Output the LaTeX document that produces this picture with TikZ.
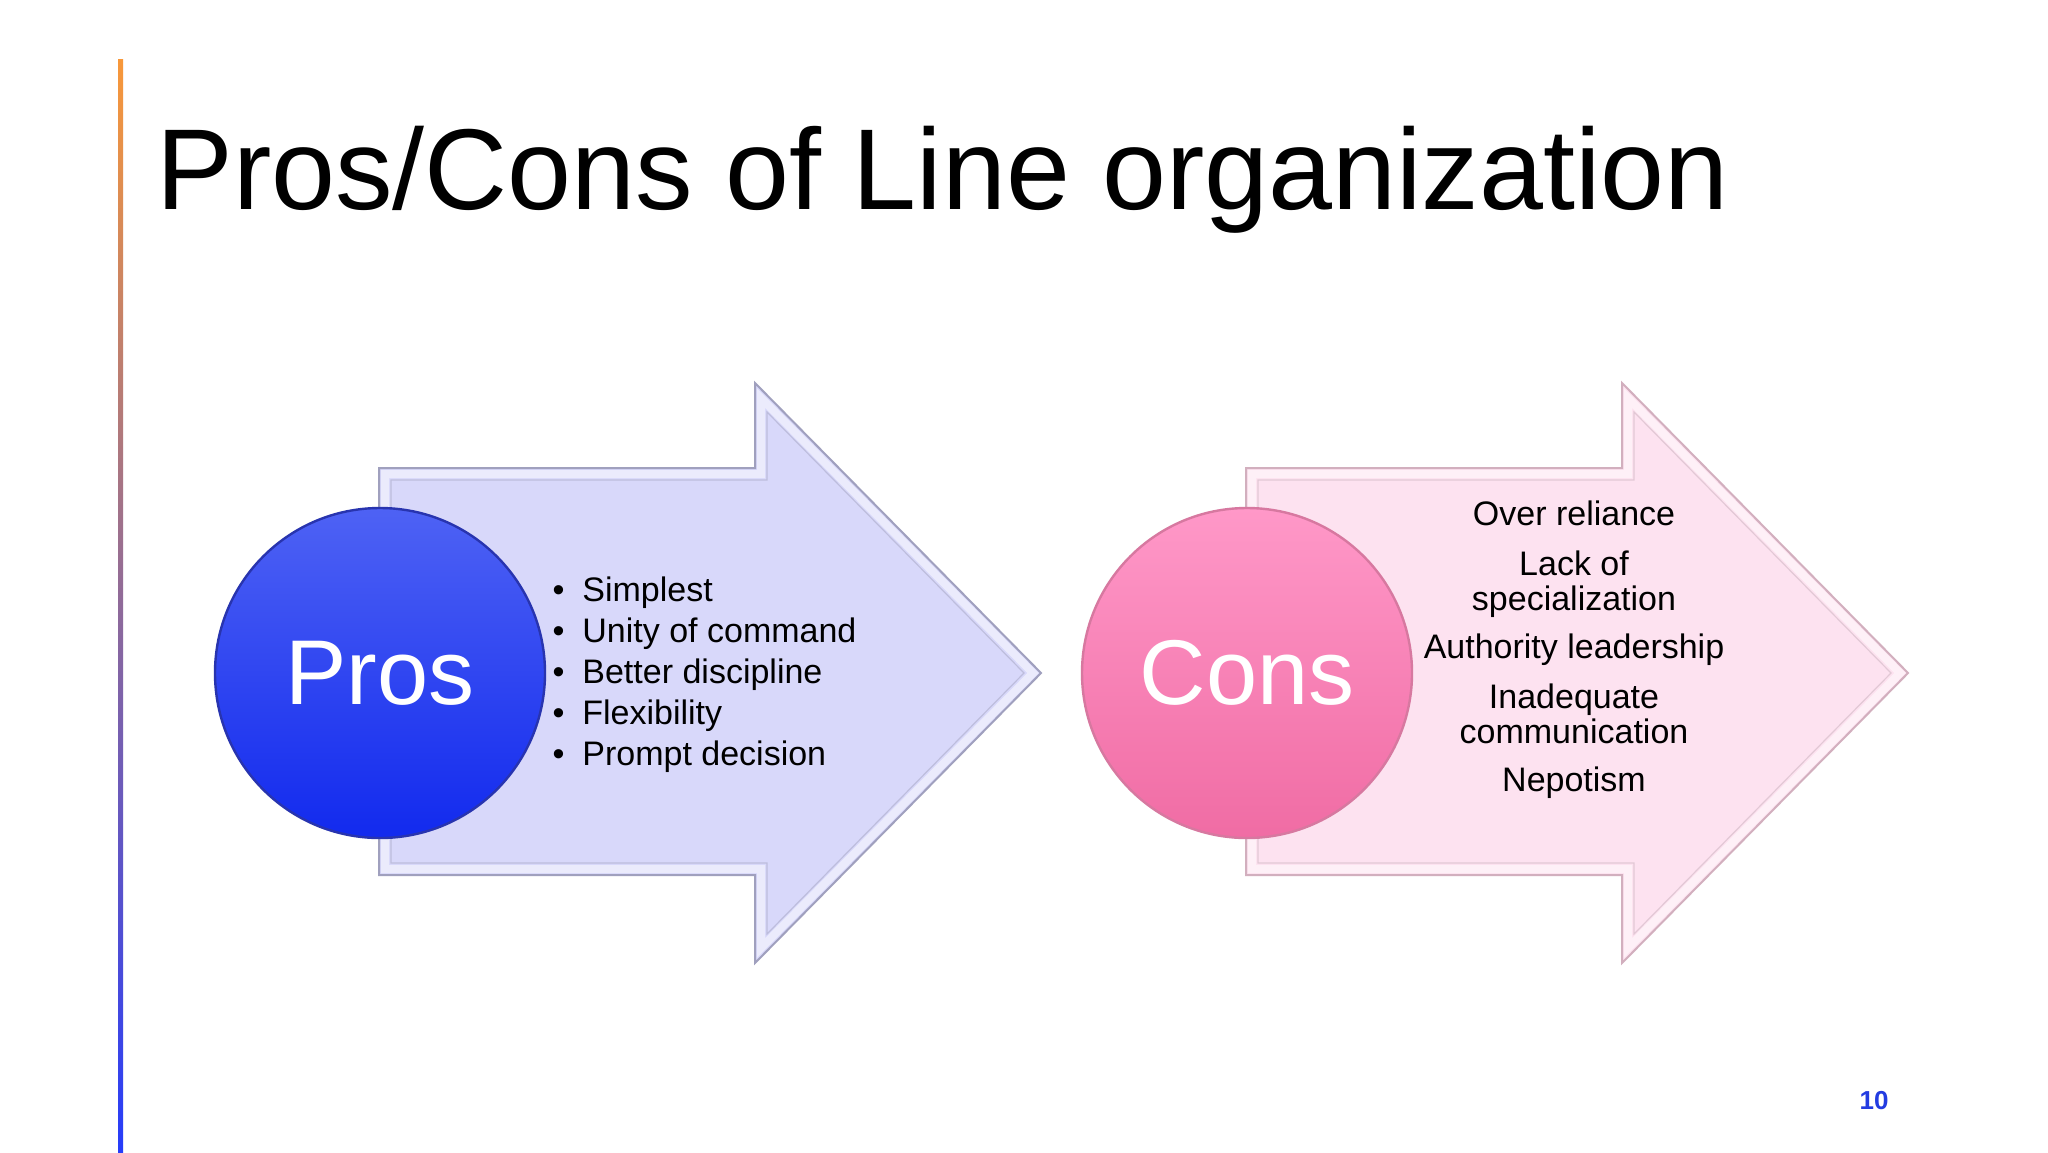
\documentclass[tikz,border=0pt]{standalone}
\usepackage{fontspec}
\setmainfont{Liberation Sans}
\definecolor{prosTop}{RGB}{78,98,244}
\definecolor{prosBot}{RGB}{18,42,238}
\definecolor{prosEdge}{RGB}{40,52,175}
\definecolor{prosFill}{RGB}{216,216,250}
\definecolor{prosLine}{RGB}{160,160,190}
\definecolor{consTop}{RGB}{255,152,200}
\definecolor{consBot}{RGB}{240,108,164}
\definecolor{consEdge}{RGB}{215,120,160}
\definecolor{consFill}{RGB}{253,226,240}
\definecolor{consLine}{RGB}{210,175,190}
\definecolor{barTop}{RGB}{248,152,58}
\definecolor{barMid}{RGB}{205,110,190}
\definecolor{barBot}{RGB}{38,60,250}
\definecolor{pageBlue}{RGB}{35,60,225}
\tikzset{
  titletext/.style={anchor=base west,inner sep=0pt,font=\fontsize{57.5}{60}\selectfont},
  bigcircle/.style={circle,inner sep=0pt,minimum size=165pt,line width=1.2pt,text=white,font=\fontsize{46}{50}\selectfont},
  bullettext/.style={anchor=base west,inner sep=0pt,font=\fontsize{17}{20}\selectfont},
  centertext/.style={anchor=base,inner sep=0pt,font=\fontsize{17}{20}\selectfont},
  arrowbody/.style={line width=1pt,line join=miter},
  bevelband/.style={draw=white,line width=4pt,opacity=0.5,line join=miter},
  bevelline/.style={line width=0.6pt,opacity=0.25,line join=miter}
}
\newcommand{\arrowshape}[3]{%
  \filldraw[arrowbody,fill=#1,draw=#2] (379,468) -- (755,468) -- (755,383) -- (1041,673) -- (755,963) -- (755,875) -- (379,875) -- cycle;
  \draw[bevelband] (385,474) -- (761,474) -- (761,398) -- (1033,673) -- (761,948) -- (761,869) -- (385,869) -- cycle;
  \draw[bevelline,draw=#3] (391,480) -- (767,480) -- (767,412) -- (1024,673) -- (767,934) -- (767,863) -- (391,863) -- cycle;
}
\begin{document}
\begin{tikzpicture}[x=0.5pt,y=-0.5pt]
\useasboundingbox (0,0) rectangle (2048,1152);
\fill[white] (0,0) rectangle (2048,1152);
% gradient bar
\shade[top color=barTop,middle color=barMid,bottom color=barBot] (118,59) rectangle (123,1152);
% title
\node[titletext] (title) at (156,209) {Pros/Cons of Line organization};
% left arrow
\arrowshape{prosFill}{prosLine}{prosLine!70!black}
% right arrow
\begin{scope}[xshift=433.5pt]
\arrowshape{consFill}{consLine}{consLine!70!black}
\end{scope}
% circles
\node[bigcircle,draw=prosEdge,top color=prosTop,bottom color=prosBot] (pros) at (380,673) {Pros};
\node[bigcircle,draw=consEdge,top color=consTop,bottom color=consBot] (cons) at (1247,673) {Cons};
% pros bullets
\node[bullettext] (p1) at (582,601) {\llap{•\hspace{9pt}}Simplest};
\node[bullettext] (p2) at (582,642) {\llap{•\hspace{9pt}}Unity of command};
\node[bullettext] (p3) at (582,683) {\llap{•\hspace{9pt}}Better discipline};
\node[bullettext] (p4) at (582,724) {\llap{•\hspace{9pt}}Flexibility};
\node[bullettext] (p5) at (582,765) {\llap{•\hspace{9pt}}Prompt decision};
% cons text
\node[centertext] (c1) at (1574,525) {Over reliance};
\node[centertext] (c2) at (1574,575) {Lack of};
\node[centertext] (c3) at (1574,610) {specialization};
\node[centertext] (c4) at (1574,658) {Authority leadership};
\node[centertext] (c5) at (1574,708) {Inadequate};
\node[centertext] (c6) at (1574,743) {communication};
\node[centertext] (c7) at (1574,791) {Nepotism};
% page number
\node[anchor=base,inner sep=0pt,text=pageBlue,font=\bfseries\fontsize{13}{15}\selectfont] (page) at (1874,1109) {10};
\end{tikzpicture}
\end{document}
